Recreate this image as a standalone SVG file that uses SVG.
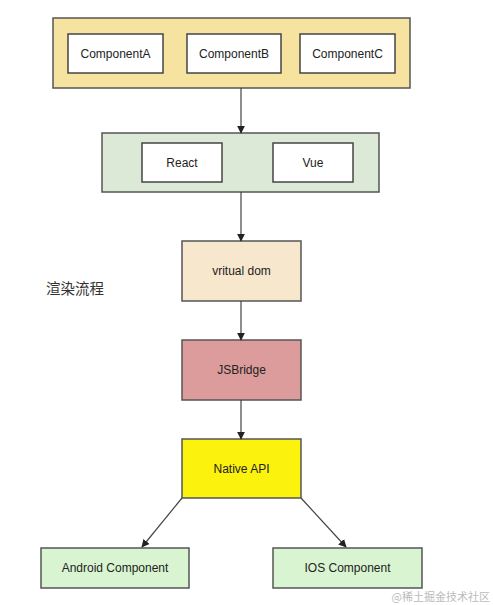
<svg xmlns="http://www.w3.org/2000/svg" width="493" height="605" viewBox="0 0 493 605">
<style>
.box{stroke:#555;stroke-width:1.5}
.inner{fill:#fff;stroke:#444;stroke-width:1.5}
.t{font-family:"Liberation Sans",Arial,sans-serif;font-size:12px;fill:#222;text-anchor:middle;dominant-baseline:central}
.c{stroke:#444;stroke-width:1.2;fill:none;marker-end:url(#ah)}
</style>
<defs>
<marker id="ah" viewBox="0 0 10 10" refX="9" refY="5" markerWidth="8" markerHeight="8" markerUnits="userSpaceOnUse" orient="auto">
<path d="M0,0 L10,5 L0,10 z" fill="#222"/>
</marker>
</defs>
<rect width="493" height="605" fill="#fff"/>
<g id="components">
<rect class="box" x="53" y="18" width="357" height="70" fill="#f6e3a0"/>
<g id="componentA"><rect class="inner" x="68" y="34" width="95" height="39"/><text class="t" x="115.5" y="53.5">ComponentA</text></g>
<g id="componentB"><rect class="inner" x="187" y="34" width="94" height="39"/><text class="t" x="234" y="53.5">ComponentB</text></g>
<g id="componentC"><rect class="inner" x="300" y="34" width="95" height="39"/><text class="t" x="347.5" y="53.5">ComponentC</text></g>
</g>
<g id="frameworks">
<rect class="box" x="102" y="133" width="277" height="59" fill="#dce9d6"/>
<g id="react"><rect class="inner" x="142" y="143" width="80" height="39"/><text class="t" x="182" y="162.5">React</text></g>
<g id="vue"><rect class="inner" x="273" y="143" width="80" height="39"/><text class="t" x="313" y="162.5">Vue</text></g>
</g>
<g id="vdom"><rect class="box" x="182" y="241" width="119" height="60" fill="#f7e7cd"/><text class="t" x="241.5" y="271">vritual dom</text></g>
<g id="jsbridge"><rect class="box" x="182" y="340" width="119" height="60" fill="#dc9c9b"/><text class="t" x="241.5" y="370">JSBridge</text></g>
<g id="nativeapi"><rect class="box" x="182" y="439" width="119" height="59" fill="#fbf20e"/><text class="t" x="241.5" y="468.5">Native API</text></g>
<g id="android"><rect class="box" x="41" y="548" width="148" height="40" fill="#d9f4d1"/><text class="t" x="115" y="568">Android Component</text></g>
<g id="ios"><rect class="box" x="273" y="548" width="149" height="40" fill="#d9f4d1"/><text class="t" x="347.5" y="568">IOS Component</text></g>
<g id="label"><text x="46" y="287" font-family="'Noto Sans CJK SC',sans-serif" font-size="14.5" fill="#333" dominant-baseline="central">渲染流程</text></g>
<g id="connectors">
<line class="c" x1="241" y1="88" x2="241" y2="133"/>
<line class="c" x1="241" y1="192" x2="241" y2="241"/>
<line class="c" x1="241" y1="301" x2="241" y2="340"/>
<line class="c" x1="241" y1="400" x2="241" y2="439"/>
<line class="c" x1="182" y1="498" x2="142" y2="547"/>
<line class="c" x1="301" y1="498" x2="346" y2="547"/>
</g>
<text x="490" y="596" text-anchor="end" font-family="'Noto Sans CJK SC',sans-serif" font-size="11" fill="#bbb" dominant-baseline="central">@稀土掘金技术社区</text>
</svg>
